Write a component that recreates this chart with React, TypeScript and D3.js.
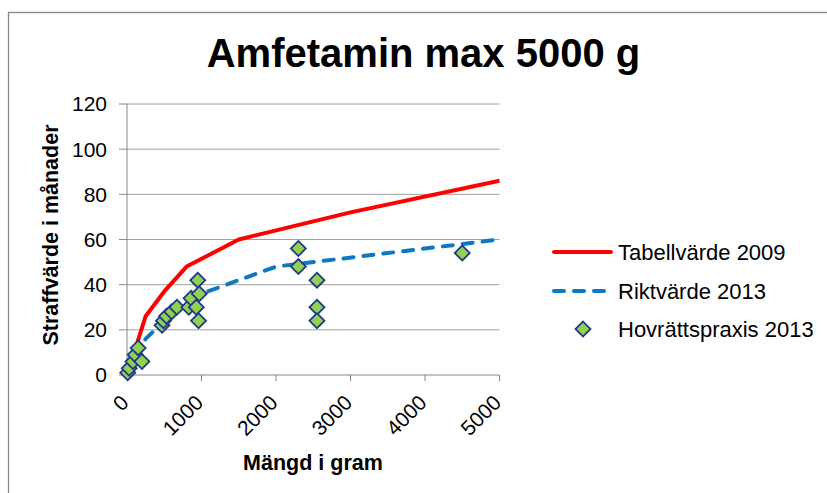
import React from "react";
import * as d3 from "d3";

const title = "Amfetamin max 5000 g";
const xTitle = "Mängd i gram";
const yTitle = "Straffvärde i månader";
const xTicks = [0, 1000, 2000, 3000, 4000, 5000];
const yTicks = [0, 20, 40, 60, 80, 100, 120];

const tabellX = [0, 250, 500, 800, 1500, 3000, 5000];
const tabellY = [0, 26, 37, 48, 60, 72, 86];

const riktX = [0, 250, 500, 1000, 2000, 5000];
const riktY = [0, 16, 24, 36, 48, 60];

const praxisX = [10, 30, 80, 110, 150, 200, 470, 490, 530, 600, 670, 830, 860, 930, 950, 970, 960, 2300, 2300, 2550, 2550, 2550, 4500];
const praxisY = [1, 3, 6, 9, 12, 6, 22, 24, 26, 28, 30, 30, 34, 30, 42, 36, 24, 56, 48, 42, 30, 24, 54];

const seriesNames = ["Tabellvärde 2009", "Riktvärde 2013", "Hovrättspraxis 2013"];

const FONT = "'Liberation Sans', Arial, sans-serif";
const RED = "#FF0000";
const BLUE = "#0E79C2";
const GREEN = "#92D050";
const NAVY = "#1F3A8C";
const GRID = "#A0A0A0";
const AXIS = "#868686";

export default function App() {
  const W = 827, H = 493;
  const x = d3.scaleLinear().domain([0, 5000]).range([127, 499.5]);
  const y = d3.scaleLinear().domain([0, 120]).range([375, 104]);
  const line = d3.line<[number, number]>().x(d => x(d[0])).y(d => y(d[1]));
  const tabell = tabellX.map((v, i) => [v, tabellY[i]] as [number, number]);
  const rikt = riktX.map((v, i) => [v, riktY[i]] as [number, number]);
  const diamond = d3.symbol().type(d3.symbolSquare).size(112)() as string;

  return (
    <svg width={W} height={H} style={{ position: "absolute", left: 0, top: 0 }} fontFamily={FONT}>
      <rect x={0} y={0} width={W} height={H} fill="#fff" />
      <rect x={8.5} y={12.5} width={W + 20} height={H + 20} fill="#fff" stroke={AXIS} strokeWidth={1.3} />
      <text x={423.5} y={67} textAnchor="middle" fontSize={40} fontWeight="bold" fill="#000">{title}</text>

      {yTicks.map(t => (
        <g key={"y" + t}>
          {t > 0 && <line x1={x(0)} x2={x(5000)} y1={y(t)} y2={y(t)} stroke={GRID} strokeWidth={1} />}
          <line x1={x(0) - 8} x2={x(0)} y1={y(t)} y2={y(t)} stroke={AXIS} strokeWidth={1} />
          <text x={107} y={y(t)} dy="0.35em" textAnchor="end" fontSize={21} fill="#000">{t}</text>
        </g>
      ))}
      <line x1={x(0)} x2={x(0)} y1={y(120)} y2={y(0)} stroke={AXIS} strokeWidth={1} />
      <line x1={x(0)} x2={x(5000)} y1={y(0)} y2={y(0)} stroke={AXIS} strokeWidth={1} />
      {xTicks.map(t => (
        <g key={"x" + t}>
          <line x1={x(t)} x2={x(t)} y1={y(0)} y2={y(0) + 6} stroke={AXIS} strokeWidth={1} />
          <text transform={`translate(${x(t) + 3},${404}) rotate(-45)`} textAnchor="end" fontSize={21} fill="#000">{t}</text>
        </g>
      ))}

      <text x={313} y={470} textAnchor="middle" fontSize={21.5} fontWeight="bold" fill="#000">{xTitle}</text>
      <text transform={`translate(58,235) rotate(-90)`} textAnchor="middle" fontSize={21.5} fontWeight="bold" fill="#000">{yTitle}</text>

      <path d={line(tabell) || ""} fill="none" stroke={RED} strokeWidth={4} strokeLinejoin="round" />
      <path d={line(rikt) || ""} fill="none" stroke={BLUE} strokeWidth={4} strokeDasharray="10 10" strokeLinecap="round" strokeLinejoin="round" />
      {praxisX.map((v, i) => (
        <path key={"p" + i} d={diamond} transform={`translate(${x(v)},${y(praxisY[i])}) rotate(45)`} fill={GREEN} stroke={NAVY} strokeWidth={1.8} />
      ))}

      <line x1={554} x2={611} y1={252} y2={252} stroke={RED} strokeWidth={4} strokeLinecap="round" />
      <text x={618} y={252} dy="0.35em" fontSize={22} fill="#000">{seriesNames[0]}</text>
      <line x1={554} x2={604} y1={291} y2={291} stroke={BLUE} strokeWidth={4} strokeDasharray="10 10" strokeLinecap="round" />
      <text x={618} y={291} dy="0.35em" fontSize={22} fill="#000">{seriesNames[1]}</text>
      <path d={diamond} transform={`translate(583,329) rotate(45)`} fill={GREEN} stroke={NAVY} strokeWidth={1.8} />
      <text x={618} y={329} dy="0.35em" fontSize={22} fill="#000">{seriesNames[2]}</text>
    </svg>
  );
}
